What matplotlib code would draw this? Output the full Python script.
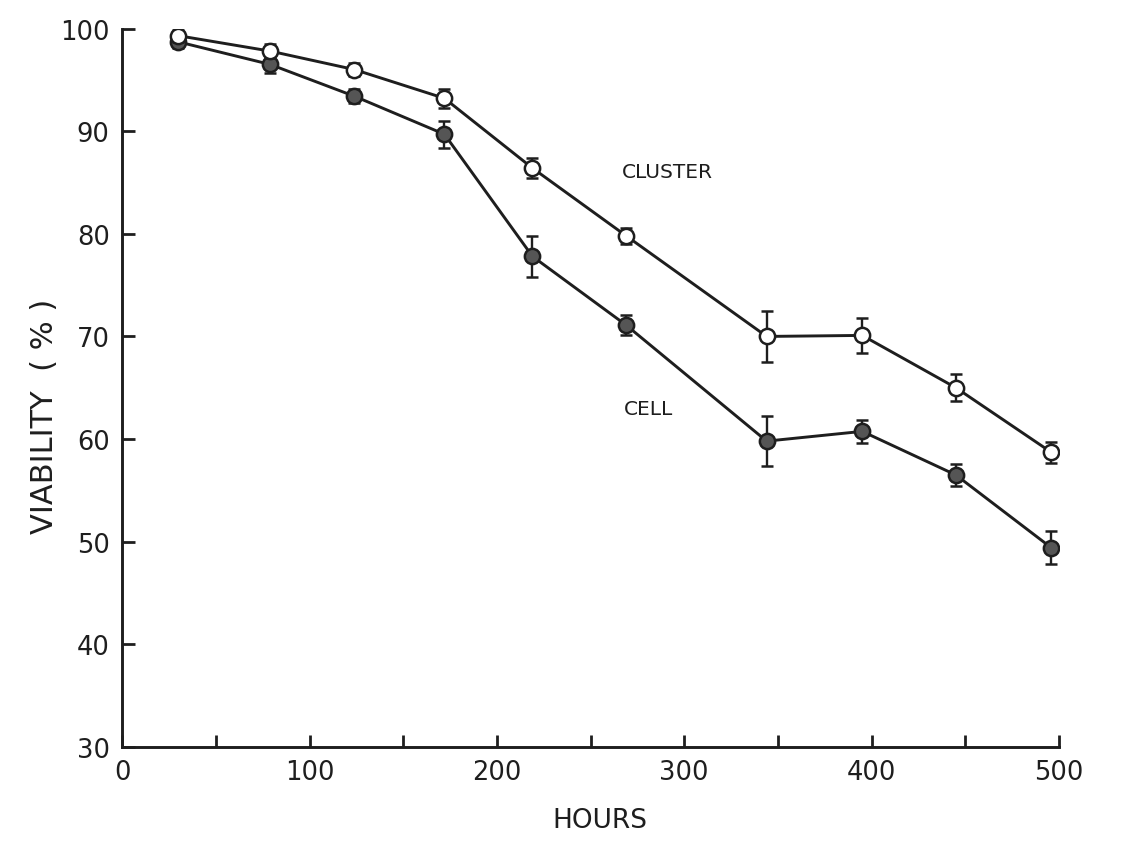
import matplotlib
matplotlib.use("Agg")
import matplotlib.pyplot as plt

hours = [30, 79, 124, 172, 219, 269, 344, 395, 445, 496]

cluster = [99.3, 97.8, 96.0, 93.2, 86.4, 79.8, 70.0, 70.1, 65.0, 58.7]
cluster_err = [0.6, 0.7, 0.6, 0.9, 1.0, 0.8, 2.5, 1.7, 1.3, 1.0]

cell = [98.7, 96.5, 93.4, 89.7, 77.8, 71.1, 59.8, 60.75, 56.5, 49.4]
cell_err = [0.6, 0.8, 0.7, 1.3, 2.0, 1.0, 2.4, 1.1, 1.1, 1.6]

x_ticks = [0, 100, 200, 300, 400, 500]
y_ticks = [30, 40, 50, 60, 70, 80, 90, 100]

ink = "#1e1e1e"
plt.rcParams['font.family'] = ['DejaVu Sans']

fig = plt.figure(figsize=(11.31, 8.53), dpi=100)
ax = fig.add_axes([0.108, 0.1231, 0.8283, 0.8423])

ax.errorbar(hours, cell, yerr=cell_err, color=ink, lw=2.1, marker='o',
            markersize=11, markerfacecolor='#555555', markeredgecolor=ink,
            markeredgewidth=1.8, ecolor=ink, elinewidth=1.7, capsize=4,
            capthick=1.8, zorder=3)
ax.errorbar(hours, cluster, yerr=cluster_err, color=ink, lw=2.1, marker='o',
            markersize=11, markerfacecolor='white', markeredgecolor=ink,
            markeredgewidth=1.8, ecolor=ink, elinewidth=1.7, capsize=4,
            capthick=1.8, zorder=4)

ax.set_xlim(0, 500)
ax.set_ylim(30, 100)
ax.set_xticks(x_ticks)
ax.set_xticks([50, 150, 250, 350, 450], minor=True)
ax.set_yticks(y_ticks)
ax.set_xticklabels([str(v) for v in x_ticks], fontsize=18.5, color=ink)
ax.set_yticklabels([str(v) for v in y_ticks], fontsize=18.5, color=ink)
ax.tick_params(axis='both', which='both', direction='in', length=9, width=2.0,
               colors=ink, pad=9)

for s in ['top', 'right']:
    ax.spines[s].set_visible(False)
for s in ['left', 'bottom']:
    ax.spines[s].set_linewidth(2.1)
    ax.spines[s].set_color(ink)

ax.text(291, 86.1, 'CLUSTER', fontsize=14.5, color=ink,
        ha='center', va='center')
ax.text(281, 63.0, 'CELL', fontsize=14.5, color=ink,
        ha='center', va='center')

fig.text(600 / 1131, 1 - 821 / 853, 'HOURS', fontsize=19, color=ink,
         ha='center', va='center')
fig.text(45 / 1131, 1 - 416 / 853, 'VIABILITY  ( % )', fontsize=22, color=ink,
         ha='center', va='center', rotation=90)

fig.savefig('out.png', dpi=100, facecolor='white')
